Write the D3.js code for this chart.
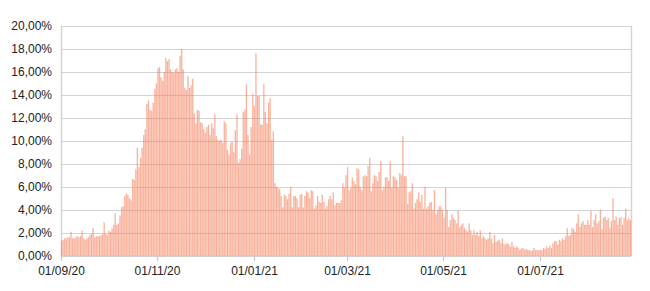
<!DOCTYPE html>
<html>
<head>
<meta charset="utf-8">
<script src="https://cdn.jsdelivr.net/npm/d3@7"></script>
<style>
    body { margin: 0; background: #fff; }
    text { font-family: "Liberation Sans", Arial, sans-serif; }
</style>
</head>
<body>
<div id="chart"></div>
<script>
// daily positivity rate (%), one value per day from 01/09/20
var startDate = new Date(2020, 8, 1);
var positivity = [
    1.3, 1.4, 1.5, 1.5, 1.6, 1.6, 2.1, 1.5, 1.5, 1.6,
    1.7, 1.6, 1.7, 2.2, 1.5, 1.4, 1.5, 1.6, 1.8, 1.9,
    2.4, 1.6, 1.7, 1.7, 1.7, 1.8, 1.9, 2.9, 1.9, 1.8,
    2.2, 2.1, 2.4, 2.7, 3.7, 2.7, 2.8, 3.5, 4.2, 4.3,
    5.2, 5.4, 5.3, 5.0, 4.8, 6.7, 6.6, 7.5, 9.4, 7.7,
    8.5, 9.4, 10.5, 11.0, 13.2, 13.5, 12.7, 12.6, 13.3, 14.5,
    15.0, 16.3, 16.4, 15.5, 15.2, 16.0, 17.2, 16.9, 17.1, 16.2,
    16.0, 15.9, 16.2, 16.3, 16.0, 17.4, 18.0, 16.2, 14.6, 14.4,
    15.6, 14.6, 14.8, 15.4, 12.4, 11.5, 12.7, 12.6, 11.6, 11.5,
    11.0, 10.7, 11.2, 11.4, 10.5, 11.5, 11.1, 12.3, 10.4, 10.1,
    10.0, 10.1, 9.8, 11.7, 11.5, 9.2, 8.8, 9.8, 9.9, 9.0,
    10.9, 12.3, 8.1, 8.4, 9.3, 12.5, 12.7, 14.9, 10.5, 8.8,
    11.2, 14.1, 13.0, 17.6, 13.9, 13.9, 11.4, 11.4, 14.9, 12.5,
    11.5, 13.3, 13.7, 10.1, 10.8, 6.3, 6.0, 5.9, 5.8, 5.2,
    4.2, 5.3, 5.2, 4.9, 5.4, 6.0, 4.2, 5.2, 5.2, 5.0,
    4.2, 5.3, 5.4, 4.2, 5.2, 5.6, 5.5, 5.0, 5.7, 5.6,
    4.1, 4.4, 5.2, 4.7, 4.6, 5.3, 4.7, 4.1, 4.3, 4.9,
    5.2, 4.9, 5.5, 4.4, 4.6, 4.6, 4.6, 4.8, 6.3, 5.9,
    7.0, 7.7, 5.7, 5.9, 6.8, 6.5, 6.2, 7.6, 7.5, 6.0,
    5.7, 6.9, 7.0, 6.9, 7.8, 8.5, 5.6, 6.3, 7.0, 6.9,
    6.5, 7.3, 8.2, 5.7, 6.0, 6.8, 6.8, 6.5, 8.2, 5.9,
    6.9, 6.8, 6.6, 5.9, 7.2, 7.0, 10.4, 6.9, 6.9, 4.5,
    5.5, 5.6, 6.3, 4.1, 4.6, 4.9, 5.5, 4.7, 5.3, 4.1,
    6.0, 4.1, 4.3, 4.6, 4.7, 4.0, 5.7, 3.6, 4.0, 4.3,
    4.3, 4.0, 3.3, 5.9, 4.0, 2.5, 3.1, 3.6, 3.3, 3.1,
    2.8, 3.9, 2.5, 2.7, 2.8, 2.4, 2.2, 2.1, 2.8, 2.2,
    1.8, 2.2, 1.8, 2.1, 1.7, 2.2, 1.5, 1.7, 1.5, 1.4,
    1.5, 2.1, 1.5, 1.1, 1.8, 1.2, 1.3, 1.4, 1.1, 1.5,
    1.0, 1.0, 1.1, 1.0, 0.8, 1.2, 0.8, 0.7, 0.8, 0.7,
    0.5, 0.6, 0.7, 0.5, 0.6, 0.5, 0.5, 0.4, 0.45, 0.67,
    0.5, 0.5, 0.5, 0.5, 0.5, 0.67, 0.6, 0.8, 0.67, 0.87,
    0.67, 1.1, 1.25, 1.3, 0.95, 1.4, 1.25, 1.5, 1.4, 1.7,
    2.4, 1.7, 1.8, 2.4, 2.3, 2.1, 2.8, 3.6, 2.5, 2.8,
    3.0, 2.7, 2.7, 3.1, 2.7, 3.9, 2.5, 3.1, 3.6, 2.8,
    3.0, 4.0, 2.3, 3.3, 3.4, 3.1, 3.3, 2.4, 3.0, 5.0,
    3.1, 3.4, 2.7, 3.3, 3.4, 2.7, 3.3, 4.1, 3.1, 3.3,
    3.1
];
var xTickLabels = ["01/09/20", "01/11/20", "01/01/21", "01/03/21", "01/05/21", "01/07/21"];
var yTicks = [0, 2, 4, 6, 8, 10, 12, 14, 16, 18, 20];

var width = 650, height = 291;
var margin = {top: 26, right: 19, bottom: 35, left: 61};

var days = positivity.map(function (v, i) { return d3.timeDay.offset(startDate, i); });
var data = positivity.map(function (v, i) { return {date: days[i], value: v}; });

var parseTick = d3.timeParse("%d/%m/%y");
var fmtNum = d3.formatLocale({decimal: ",", thousands: ".", grouping: [3], currency: ["", "€"]}).format(".2f");

var x = d3.scaleBand()
    .domain(days)
    .range([margin.left, width - margin.right])
    .paddingInner(0.3)
    .paddingOuter(0);

var y = d3.scaleLinear()
    .domain([0, 20])
    .range([height - margin.bottom, margin.top]);

var svg = d3.select("#chart").append("svg")
    .attr("width", width)
    .attr("height", height);

// gridlines
svg.append("g")
    .selectAll("line")
    .data(yTicks)
    .enter().append("line")
    .attr("x1", margin.left)
    .attr("x2", width - margin.right)
    .attr("y1", function (d) { return Math.round(y(d)) + 0.5; })
    .attr("y2", function (d) { return Math.round(y(d)) + 0.5; })
    .attr("stroke", "#d3d3d3")
    .attr("stroke-width", 1.2);

// left axis line and right border
svg.append("line")
    .attr("x1", margin.left + 0.5).attr("x2", margin.left + 0.5)
    .attr("y1", y(20)).attr("y2", y(0))
    .attr("stroke", "#d3d3d3").attr("stroke-width", 1.4);
svg.append("line")
    .attr("x1", width - margin.right + 0.5).attr("x2", width - margin.right + 0.5)
    .attr("y1", y(20)).attr("y2", y(0))
    .attr("stroke", "#d3d3d3").attr("stroke-width", 1.4);

// bars
svg.append("g")
    .selectAll("rect")
    .data(data)
    .enter().append("rect")
    .attr("x", function (d) { return x(d.date); })
    .attr("width", x.bandwidth())
    .attr("y", function (d) { return y(d.value); })
    .attr("height", function (d) { return y(0) - y(d.value); })
    .attr("fill", "#f7845f")
    .attr("fill-opacity", 0.6)
    .attr("stroke", "#f37250")
    .attr("stroke-opacity", 0.3)
    .attr("stroke-width", 0.3);

// y labels
svg.append("g")
    .selectAll("text")
    .data(yTicks)
    .enter().append("text")
    .attr("x", margin.left - 9)
    .attr("y", function (d) { return y(d); })
    .attr("dy", "0.36em")
    .attr("text-anchor", "end")
    .attr("font-size", "12px")
    .attr("fill", "#222")
    .text(function (d) { return fmtNum(d) + "%"; });

// x ticks and labels
var xt = svg.append("g")
    .selectAll("g")
    .data(xTickLabels)
    .enter().append("g")
    .attr("transform", function (d) { return "translate(" + (Math.round(x(parseTick(d))) + 0.5) + ",0)"; });

xt.append("line")
    .attr("y1", y(0))
    .attr("y2", y(0) + 5)
    .attr("stroke", "#c8c8c8")
    .attr("stroke-width", 1.2);

xt.append("text")
    .attr("y", y(0) + 19)
    .attr("text-anchor", "middle")
    .attr("font-size", "12px")
    .attr("fill", "#222")
    .text(function (d) { return d; });
</script>
</body>
</html>
